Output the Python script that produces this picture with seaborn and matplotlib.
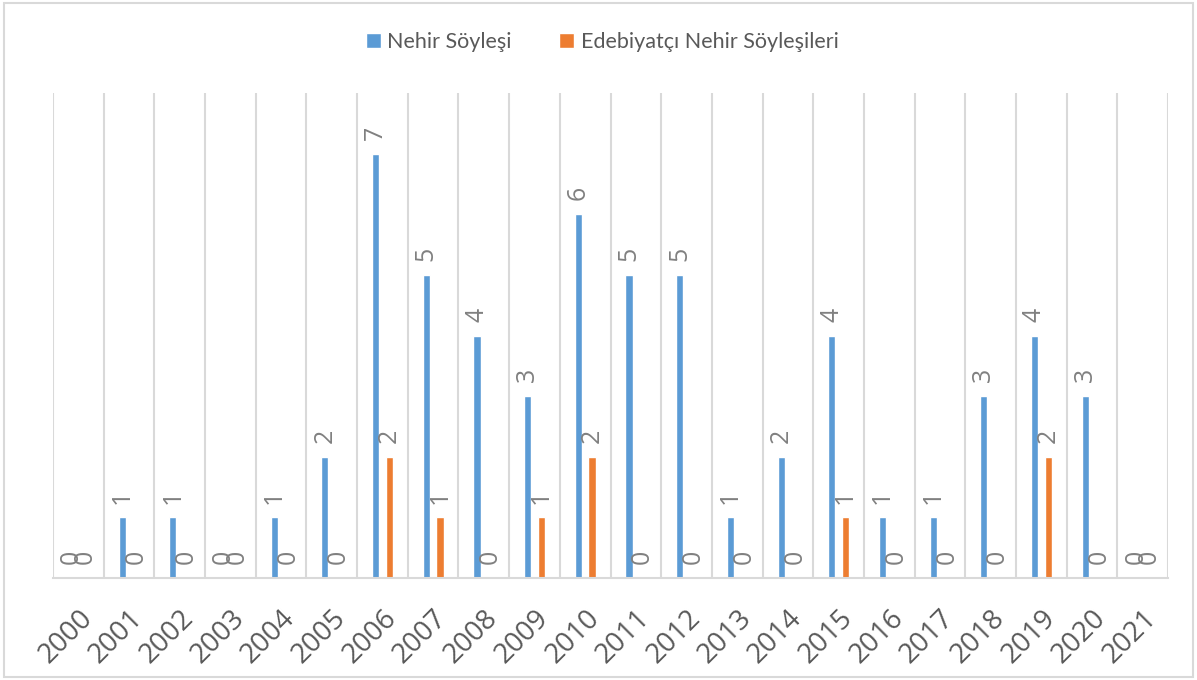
import matplotlib.pyplot as plt
import seaborn as sns
import pandas as pd
from matplotlib.patches import Rectangle

# ======= data ======= #
years = [str(y) for y in range(2000, 2022)]
nehir = [0, 1, 1, 0, 1, 2, 7, 5, 4, 3, 6, 5, 5, 1, 2, 4, 1, 1, 3, 4, 3, 0]
edebiyatci = [0, 0, 0, 0, 0, 0, 2, 1, 0, 1, 2, 0, 0, 0, 0, 1, 0, 0, 0, 2, 0, 0]
series = ["Nehir Söyleşi", "Edebiyatçı Nehir Söyleşileri"]
colors = ["#5B9BD5", "#ED7D31"]

df = pd.DataFrame({
    "year": years * 2,
    "value": nehir + edebiyatci,
    "series": [series[0]] * len(years) + [series[1]] * len(years),
})

sns.set_style("white")
plt.rcParams["font.family"] = ["Lato", "DejaVu Sans"]

fig = plt.figure(figsize=(11.97, 6.8), dpi=100)
ax = fig.add_axes([0.0443, 0.15, 0.9315, 0.713])

sns.barplot(
    data=df, x="year", y="value", hue="series",
    palette=colors, width=0.54, gap=0.48,
    saturation=1, ax=ax
)

# data labels
for cont in ax.containers:
    ax.bar_label(cont, fmt="%d", rotation=90, padding=10,
                 fontsize=18, color="#808080",
                 family=["Open Sans", "DejaVu Sans"])

# vertical gridlines at category borders
for b in range(len(years) + 1):
    ax.axvline(b - 0.5, color="#d9d9d9", lw=1.5, zorder=0)

ax.set_xlim(-0.5, len(years) - 0.5)
ax.set_ylim(0, 8)
ax.set_yticks([])
ax.set_xlabel("")
ax.set_ylabel("")

for s in ["top", "left", "right"]:
    ax.spines[s].set_visible(False)
ax.spines["bottom"].set_color("#d9d9d9")
ax.spines["bottom"].set_linewidth(1.5)

ax.tick_params(axis="x", length=0, pad=19)
plt.setp(ax.get_xticklabels(), rotation=45, ha="right",
         rotation_mode="anchor", fontsize=20, color="#595959",
         family=["Open Sans", "DejaVu Sans"])

# legend
handles, labels = ax.get_legend_handles_labels()
ax.legend(
    handles, labels, loc="center", bbox_to_anchor=(0.503, 0.938),
    bbox_transform=fig.transFigure, ncol=2, frameon=False,
    fontsize=15.5, labelcolor="#595959", handlelength=0.7,
    handleheight=0.7, handletextpad=0.3, columnspacing=2.2
)

# outer chart border
fig.patches.append(Rectangle((0.003, 0.004), 0.994, 0.992, transform=fig.transFigure,
                             fill=False, edgecolor="#d9d9d9", lw=1.5))

fig.savefig("out.png", dpi=100, facecolor="white")
